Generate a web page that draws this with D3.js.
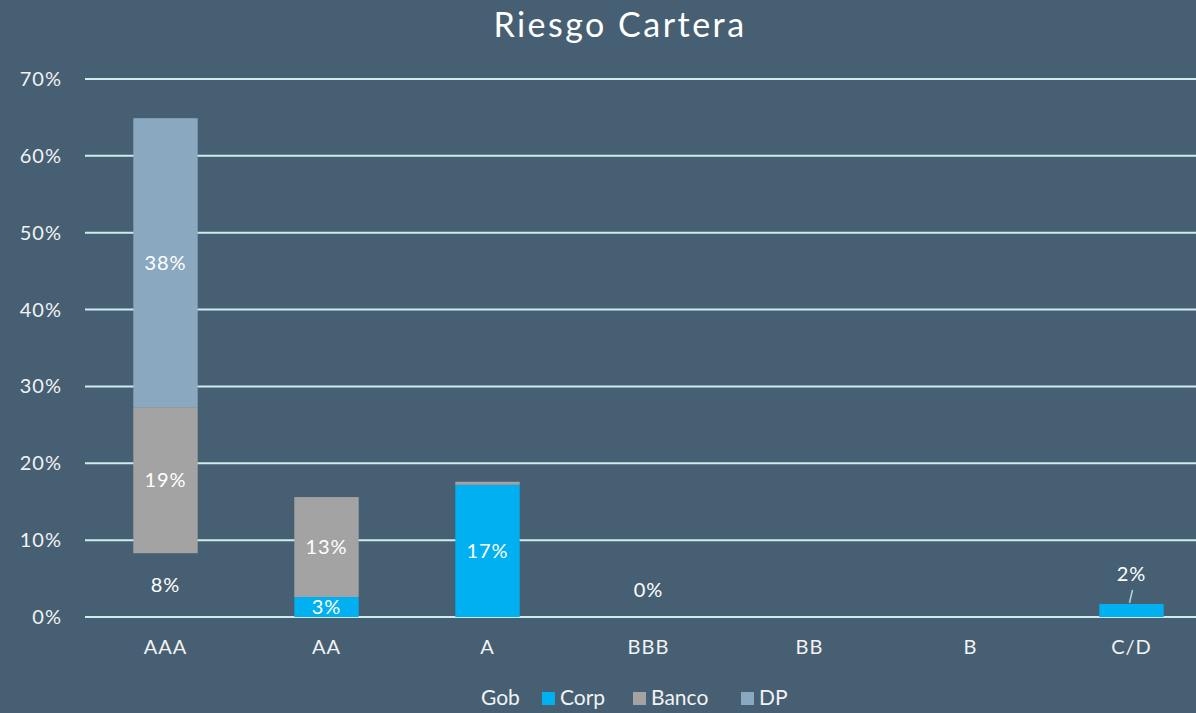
<!DOCTYPE html>
<html>
<head>
<meta charset="utf-8">
<script src="https://cdn.jsdelivr.net/npm/d3@7"></script>
<style>
  html, body { margin: 0; padding: 0; background: #465f73; }
  svg { display: block; font-family: Lato, "Open Sans", sans-serif; }
</style>
</head>
<body>
<div id="chart"></div>
<script>
// rating categories
let categories = ["AAA", "AA", "A", "BBB", "BB", "B", "C/D"]
let seriesNames = ["Gob", "Corp", "Banco", "DP"]

// values in %
let gob   = [8.3, 0, 0, 0.2, 0, 0, 0]
let corp  = [0, 2.6, 17.2, 0, 0, 0, 1.7]
let banco = [19.0, 13.0, 0.4, 0, 0, 0, 0]
let dp    = [37.6, 0, 0, 0, 0, 0, 0]

let yTicks = [0, 10, 20, 30, 40, 50, 60, 70]

let bg = "#465f73"
// Gob is drawn with no fill, so it blends with the background
let colors = { Gob: "none", Corp: "#00b0f0", Banco: "#a3a3a3", DP: "#8aa9c1" }

var width = 1196, height = 713
var margin = { top: 79, bottom: 96, left: 85 }

let svg = d3.select("#chart")
    .append("svg")
    .attr("width", width)
    .attr("height", height)

svg.append("rect").attr("width", width).attr("height", height).attr("fill", bg)

// build rows for stacking
let rows = categories.map((c, i) => ({
    cat: c, Gob: gob[i], Corp: corp[i], Banco: banco[i], DP: dp[i]
}))
let stacked = d3.stack().keys(seriesNames)(rows)

var x = d3.scaleBand()
    .domain(categories)
    .range([margin.left, margin.left + 161 * 7])
    .paddingInner(0.6)
    .paddingOuter(0.3)

var y = d3.scaleLinear()
    .domain([0, 70])
    .range([height - margin.bottom, margin.top])

// gridlines
svg.append("g")
    .selectAll("line")
    .data(yTicks)
    .enter()
    .append("line")
    .attr("x1", margin.left)
    .attr("x2", width)
    .attr("y1", d => y(d))
    .attr("y2", d => y(d))
    .attr("stroke", "#cdeceb")
    .attr("stroke-width", 2)

// y axis labels
svg.append("g")
    .selectAll("text")
    .data(yTicks)
    .enter()
    .append("text")
    .attr("x", 62)
    .attr("y", d => y(d))
    .attr("dy", "0.35em")
    .attr("text-anchor", "end")
    .attr("fill", "#f2f2f2")
    .style("font-size", "20px")
    .style("letter-spacing", "1px")
    .text(d => d + "%")

// bars
let layers = svg.append("g")
    .selectAll("g")
    .data(stacked)
    .enter()
    .append("g")
    .attr("fill", d => colors[d.key])

layers.selectAll("rect")
    .data(d => d)
    .enter()
    .append("rect")
    .attr("x", d => x(d.data.cat))
    .attr("y", d => y(d[1]))
    .attr("width", x.bandwidth())
    .attr("height", d => y(d[0]) - y(d[1]))

// data labels
stacked.forEach(layer => {
    layer.forEach(d => {
        let v = d[1] - d[0]
        let show = layer.key == "Gob" ? v > 0 : v >= 1
        if (!show) return
        let cx = x(d.data.cat) + x.bandwidth() / 2
        let h = y(d[0]) - y(d[1])
        let ly = (y(d[0]) + y(d[1])) / 2
        if (h < 16) {
            // too small, label sits above the bar
            ly = y(d[1]) - 25
            if (v >= 1) {
                ly = y(d[1]) - 30
                svg.append("line")
                    .attr("x1", cx - 2).attr("x2", cx + 1)
                    .attr("y1", y(d[1]) - 1).attr("y2", y(d[1]) - 14)
                    .attr("stroke", "#a9dcd8")
                    .attr("stroke-width", 1.5)
            }
        }
        svg.append("text")
            .attr("x", cx)
            .attr("y", ly)
            .attr("dy", "0.35em")
            .attr("text-anchor", "middle")
            .attr("fill", "#ffffff")
            .style("font-size", "20px")
            .style("letter-spacing", "1px")
            .text(Math.round(v) + "%")
    })
})

// x labels
svg.append("g")
    .selectAll("text")
    .data(categories)
    .enter()
    .append("text")
    .attr("x", d => x(d) + x.bandwidth() / 2)
    .attr("y", 647)
    .attr("dy", "0.35em")
    .attr("text-anchor", "middle")
    .attr("fill", "#f2f2f2")
    .style("font-size", "20px")
    .style("letter-spacing", "1px")
    .text(d => d)

// title
svg.append("text")
    .attr("x", 620)
    .attr("y", 25)
    .attr("dy", "0.35em")
    .attr("text-anchor", "middle")
    .attr("fill", "#ffffff")
    .style("font-size", "34px")
    .style("letter-spacing", "2.5px")
    .text("Riesgo Cartera")

// legend
let legendX = [463, 542, 633, 741]
let legend = svg.append("g")
    .selectAll("g")
    .data(seriesNames)
    .enter()
    .append("g")
    .attr("transform", (d, i) => "translate(" + legendX[i] + ",698)")

legend.append("rect")
    .attr("x", 0)
    .attr("y", -6)
    .attr("width", 13)
    .attr("height", 13)
    .attr("fill", d => d == "Gob" ? bg : colors[d])

legend.append("text")
    .attr("x", 18)
    .attr("dy", "0.35em")
    .attr("fill", "#f2f2f2")
    .style("font-size", "21px")
    .text(d => d)
</script>
</body>
</html>
